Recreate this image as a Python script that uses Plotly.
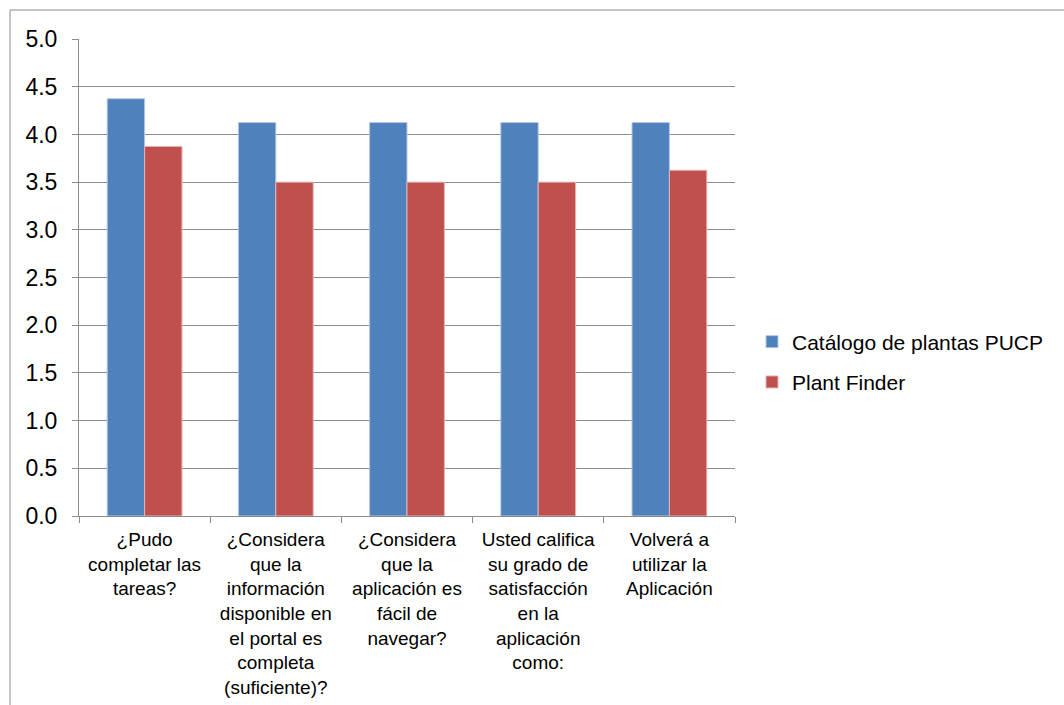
import plotly.graph_objects as go

# Survey questions (category axis) and mean scores per application
categories = [
    "¿Pudo<br>completar las<br>tareas?",
    "¿Considera<br>que la<br>información<br>disponible en<br>el portal es<br>completa<br>(suficiente)?",
    "¿Considera<br>que la<br>aplicación es<br>fácil de<br>navegar?",
    "Usted califica<br>su grado de<br>satisfacción<br>en la<br>aplicación<br>como:",
    "Volverá a<br>utilizar la<br>Aplicación",
]
catalogo_pucp = [4.375, 4.125, 4.125, 4.125, 4.125]
plant_finder = [3.875, 3.5, 3.5, 3.5, 3.625]
y_ticks = [0.0, 0.5, 1.0, 1.5, 2.0, 2.5, 3.0, 3.5, 4.0, 4.5, 5.0]

FONT = "Liberation Sans, Arial, sans-serif"
GRID = "#8c8c8c"

fig = go.Figure()
fig.add_trace(go.Bar(
    name="Catálogo de plantas PUCP", x=categories, y=catalogo_pucp,
    marker=dict(color="#4F81BD", line=dict(color="#b3c7e3", width=1)),
    legendgroup="a",
))
fig.add_trace(go.Bar(
    name="Plant Finder", x=categories, y=plant_finder,
    marker=dict(color="#C0504D", line=dict(color="#e3b5b4", width=1)),
    legendgroup="b",
))

L, R, T, B = 79, 735, 39, 516
W, H = 1064, 705

fig.update_layout(
    width=W, height=H,
    margin=dict(l=L, r=W - R, t=T, b=H - B, pad=0, autoexpand=False),
    paper_bgcolor="white", plot_bgcolor="white",
    barmode="group", bargap=0.43, bargroupgap=0,
    font=dict(family=FONT, size=20, color="black"),
    legend=dict(
        x=(752 - L) / (R - L), y=(B - 362) / (B - T),
        xanchor="left", yanchor="middle",
        font=dict(size=21), tracegroupgap=10,
        bgcolor="rgba(0,0,0,0)",
    ),
    xaxis=dict(
        type="category", tickson="boundaries", automargin=False,
        ticks="outside", ticklen=6, tickcolor=GRID,
        showline=True, linecolor=GRID, linewidth=1,
        showgrid=False, tickfont=dict(size=19), tickangle=0,
        ticklabelstandoff=6,
    ),
    yaxis=dict(
        range=[0, 5.001], tickvals=y_ticks, automargin=False,
        ticktext=[f"{v:.1f}" for v in y_ticks],
        ticks="outside", ticklen=6, tickcolor=GRID,
        showline=True, linecolor=GRID, linewidth=1,
        showgrid=True, gridcolor=GRID, gridwidth=1,
        zeroline=False, tickfont=dict(size=23),
        ticklabelstandoff=10,
    ),
    shapes=[dict(
        type="rect", xref="paper", yref="paper",
        x0=(10 - L) / (R - L), x1=2.0,
        y0=-1.0, y1=(B - 10) / (B - T),
        line=dict(color="#8a8a8a", width=1), layer="below",
    )],
)

fig.write_html("out.html")
